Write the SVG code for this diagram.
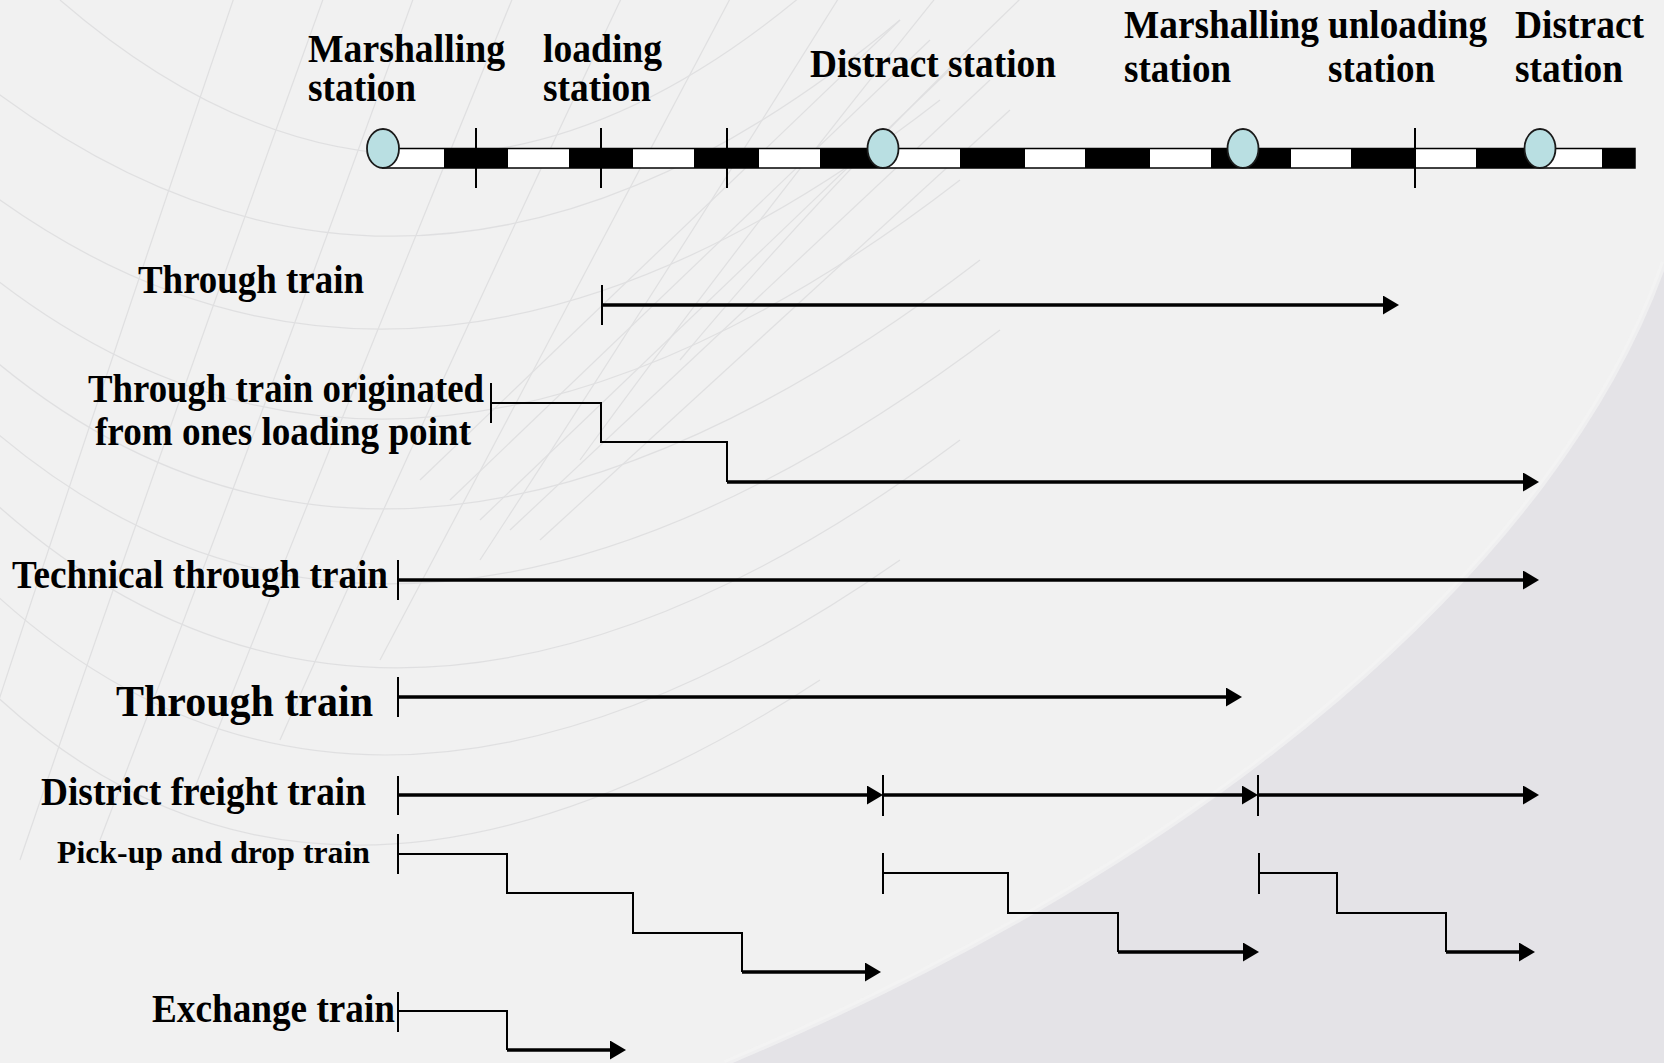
<svg xmlns="http://www.w3.org/2000/svg" width="1664" height="1063" viewBox="0 0 1664 1063">
<style>
.t{font-family:"Liberation Serif","Times New Roman",serif;font-weight:bold;fill:#000;font-size:37px}
.big{font-size:39px}
.thin{fill:none;stroke:#000;stroke-width:2}
.thick{fill:none;stroke:#000;stroke-width:3.5}
.tick{stroke:#000;stroke-width:2}
.mesh{fill:none;stroke:#d2d2d4;stroke-width:1.2}
.st{fill:#b9dfe2;stroke:#1a1a1a;stroke-width:1.8}
</style>
<defs>
<marker id="ah" viewBox="0 0 16 19" refX="4" refY="9.5" markerWidth="16" markerHeight="19" markerUnits="userSpaceOnUse" orient="auto">
<path d="M0,0 L16,9.5 L0,19 Z" fill="#000"/>
</marker>
</defs>
<g id="background">
<rect x="0" y="0" width="1664" height="1063" fill="#f1f1f1"/>
<g opacity="0.55">
<path class="mesh" d="M-40 330 Q 380 720 980 260"/>
<path class="mesh" d="M-40 400 Q 380 800 1000 330"/>
<path class="mesh" d="M-40 470 Q 370 880 960 440"/>
<path class="mesh" d="M-40 560 Q 340 950 900 560"/>
<path class="mesh" d="M-40 660 Q 300 1020 820 680"/>
<path class="mesh" d="M-40 250 Q 390 620 960 180"/>
<path class="mesh" d="M-40 170 Q 400 520 940 100"/>
<path class="mesh" d="M-20 80 Q 420 420 900 20"/>
<path class="mesh" d="M60 0 Q 430 320 820 -20"/>
<path class="mesh" d="M-60 880 Q 80 450 240 -20"/>
<path class="mesh" d="M20 860 Q 160 450 330 -20"/>
<path class="mesh" d="M100 840 Q 250 450 420 -20"/>
<path class="mesh" d="M190 800 Q 340 420 520 -20"/>
<path class="mesh" d="M280 740 Q 440 380 630 -20"/>
<path class="mesh" d="M380 660 Q 550 340 740 -20"/>
<path class="mesh" d="M480 560 Q 650 300 850 -20"/>
<path class="mesh" d="M580 460 Q 740 240 950 -20"/>
<path class="mesh" d="M680 360 Q 830 180 1040 -20"/>
<path class="mesh" d="M420 480 L 900 20"/>
<path class="mesh" d="M450 500 L 930 40"/>
<path class="mesh" d="M480 520 L 960 60"/>
<path class="mesh" d="M510 530 L 990 80"/>
<path class="mesh" d="M540 540 L 1010 110"/>
</g>
<path d="M1664 262 C 1560 560, 1210 860, 725 1063 L 1664 1063 Z" fill="#e4e3e7"/>
<path d="M1664 262 C 1560 560, 1210 860, 725 1063" fill="none" stroke="#f4f4f4" stroke-width="6" opacity="0.7"/>
</g>
<g id="track">
<rect x="383" y="148.5" width="1252" height="19.5" fill="#fff" stroke="#000" stroke-width="1.5"/>
<g fill="#000">
<rect x="444" y="148.5" width="64" height="19.5"/>
<rect x="569" y="148.5" width="64" height="19.5"/>
<rect x="694" y="148.5" width="65" height="19.5"/>
<rect x="820" y="148.5" width="63" height="19.5"/>
<rect x="960" y="148.5" width="65" height="19.5"/>
<rect x="1085" y="148.5" width="65" height="19.5"/>
<rect x="1211" y="148.5" width="80" height="19.5"/>
<rect x="1351" y="148.5" width="65" height="19.5"/>
<rect x="1476" y="148.5" width="64" height="19.5"/>
<rect x="1602" y="148.5" width="33" height="19.5"/>
</g>
<line class="tick" x1="476" y1="128" x2="476" y2="188"/>
<line class="tick" x1="601" y1="128" x2="601" y2="188"/>
<line class="tick" x1="727" y1="128" x2="727" y2="188"/>
<line class="tick" x1="1415" y1="128" x2="1415" y2="188"/>
</g>
<g id="station-1"><ellipse class="st" cx="383" cy="148.5" rx="16" ry="19.5"/>
<text class="t big" x="308" y="62" textLength="197" lengthAdjust="spacingAndGlyphs">Marshalling</text>
<text class="t big" x="308" y="101" textLength="108" lengthAdjust="spacingAndGlyphs">station</text></g>
<g id="station-loading">
<text class="t big" x="543" y="62" textLength="119" lengthAdjust="spacingAndGlyphs">loading</text>
<text class="t big" x="543" y="101" textLength="108" lengthAdjust="spacingAndGlyphs">station</text></g>
<g id="station-2"><ellipse class="st" cx="883" cy="148.5" rx="15.5" ry="19.5"/>
<text class="t big" x="810" y="77" textLength="246" lengthAdjust="spacingAndGlyphs">Distract station</text></g>
<g id="station-3"><ellipse class="st" cx="1243" cy="148.5" rx="15.5" ry="19.5"/>
<text class="t big" x="1124" y="38" textLength="195" lengthAdjust="spacingAndGlyphs">Marshalling</text>
<text class="t big" x="1124" y="82" textLength="107" lengthAdjust="spacingAndGlyphs">station</text></g>
<g id="station-unloading">
<text class="t big" x="1328" y="38" textLength="159" lengthAdjust="spacingAndGlyphs">unloading</text>
<text class="t big" x="1328" y="82" textLength="107" lengthAdjust="spacingAndGlyphs">station</text></g>
<g id="station-4"><ellipse class="st" cx="1540" cy="148.5" rx="15.5" ry="19.5"/>
<text class="t big" x="1515" y="38" textLength="129" lengthAdjust="spacingAndGlyphs">Distract</text>
<text class="t big" x="1515" y="82" textLength="108" lengthAdjust="spacingAndGlyphs">station</text></g>
<g id="labels">
<text class="t big" x="138" y="293" textLength="226" lengthAdjust="spacingAndGlyphs">Through train</text>
<text class="t big" x="88" y="402" textLength="396" lengthAdjust="spacingAndGlyphs">Through train originated</text>
<text class="t big" x="95" y="445" textLength="376" lengthAdjust="spacingAndGlyphs">from ones loading point</text>
<text class="t big" x="12" y="588" textLength="376" lengthAdjust="spacingAndGlyphs">Technical through train</text>
<text class="t" x="116" y="716" style="font-size:44px" textLength="257" lengthAdjust="spacingAndGlyphs">Through train</text>
<text class="t big" x="41" y="805" textLength="325" lengthAdjust="spacingAndGlyphs">District freight train</text>
<text class="t" x="57" y="863" style="font-size:32px" textLength="313" lengthAdjust="spacingAndGlyphs">Pick-up and drop train</text>
<text class="t big" x="152" y="1022" textLength="243" lengthAdjust="spacingAndGlyphs">Exchange train</text>
</g>
<g id="connectors">
<line class="tick" x1="602" y1="285" x2="602" y2="325"/>
<line class="thick" x1="602" y1="305" x2="1387" y2="305" marker-end="url(#ah)"/>
<line class="tick" x1="491" y1="383" x2="491" y2="423"/>
<path class="thin" d="M491 403 H601 V442 H727 V482"/>
<line class="thick" x1="727" y1="482" x2="1527" y2="482" marker-end="url(#ah)"/>
<line class="tick" x1="398" y1="560" x2="398" y2="600"/>
<line class="thick" x1="398" y1="580" x2="1527" y2="580" marker-end="url(#ah)"/>
<line class="tick" x1="398" y1="677" x2="398" y2="717"/>
<line class="thick" x1="398" y1="697" x2="1230" y2="697" marker-end="url(#ah)"/>
<line class="tick" x1="398" y1="776" x2="398" y2="815"/>
<line class="thick" x1="398" y1="795" x2="871" y2="795" marker-end="url(#ah)"/>
<line class="tick" x1="883" y1="775" x2="883" y2="816"/>
<line class="thick" x1="883" y1="795" x2="1246" y2="795" marker-end="url(#ah)"/>
<line class="tick" x1="1258" y1="775" x2="1258" y2="816"/>
<line class="thick" x1="1258" y1="795" x2="1527" y2="795" marker-end="url(#ah)"/>
<line class="tick" x1="398" y1="834" x2="398" y2="874"/>
<path class="thin" d="M398 854 H507 V893 H633 V933 H742 V972"/>
<line class="thick" x1="742" y1="972" x2="869" y2="972" marker-end="url(#ah)"/>
<line class="tick" x1="883" y1="853" x2="883" y2="894"/>
<path class="thin" d="M883 873 H1008 V913 H1118 V952"/>
<line class="thick" x1="1118" y1="952" x2="1247" y2="952" marker-end="url(#ah)"/>
<line class="tick" x1="1259" y1="853" x2="1259" y2="894"/>
<path class="thin" d="M1259 873 H1337 V913 H1446 V952"/>
<line class="thick" x1="1446" y1="952" x2="1523" y2="952" marker-end="url(#ah)"/>
<line class="tick" x1="398" y1="992" x2="398" y2="1032"/>
<path class="thin" d="M398 1011 H507 V1050"/>
<line class="thick" x1="507" y1="1050" x2="614" y2="1050" marker-end="url(#ah)"/>
</g>
</svg>
